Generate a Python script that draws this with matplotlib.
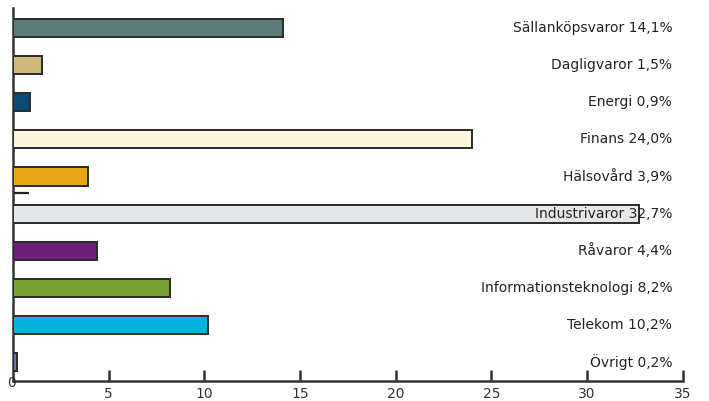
import matplotlib
matplotlib.use('Agg')
import matplotlib.pyplot as plt
import numpy as np

#------------------------------------------------------------------------
# Data (branschfordelning, procent)
#------------------------------------------------------------------------
sectors = ['Sällanköpsvaror', 'Dagligvaror', 'Energi', 'Finans',
           'Hälsovård', 'Industrivaror', 'Råvaror',
           'Informationsteknologi', 'Telekom', 'Övrigt']
values  = [14.1, 1.5, 0.9, 24.0, 3.9, 32.7, 4.4, 8.2, 10.2, 0.2]
colors  = ['#5b7c79', '#d0b878', '#0b4a72', '#fcf6dd', '#e8a61b',
           '#e6e7e9', '#6e1f79', '#78a22f', '#00b1dc', '#6a73b4']
xticks  = [5, 10, 15, 20, 25, 30, 35]

#------------------------------------------------------------------------
fig = plt.figure(figsize=(7.09, 4.01), dpi=100)
ax = fig.add_axes([0.0185, 0.05, 0.9445, 0.93])

ypos = np.arange(len(sectors))
ax.barh(ypos, values, height=0.49, color=colors,
        edgecolor='#2a2a2a', linewidth=1.4, zorder=3)

# right-aligned labels with value
for y, name, v in zip(ypos, sectors, values):
    txt = '%s %s%%' % (name, ('%.1f' % v).replace('.', ','))
    ax.text(34.45, y, txt, ha='right', va='center',
            fontsize=10, color='#222222', zorder=4)

# small stray tick between Hälsovård and Industrivaror
ax.plot([0, 0.85], [4.45, 4.45], color='#222222', lw=1.6, zorder=2,
        solid_capstyle='butt')

ax.set_xlim(0, 35)
ax.set_ylim(9.51, -0.54)

ax.set_yticks([])
ax.set_xticks(xticks)
ax.set_xticklabels([str(t) for t in xticks])
ax.tick_params(axis='x', direction='in', length=8, width=1.8,
               color='#333333', labelsize=10, labelcolor='#333333', pad=4)
ax.text(-0.1, -0.005, '0', transform=ax.get_xaxis_transform(),
        ha='center', va='center', fontsize=10, color='#333333')

for side in ['top', 'right']:
    ax.spines[side].set_visible(False)
for side in ['left', 'bottom']:
    ax.spines[side].set_linewidth(1.8)
    ax.spines[side].set_color('#333333')
ax.patch.set_alpha(0)

plt.savefig('out.png', dpi=100)
plt.close()
